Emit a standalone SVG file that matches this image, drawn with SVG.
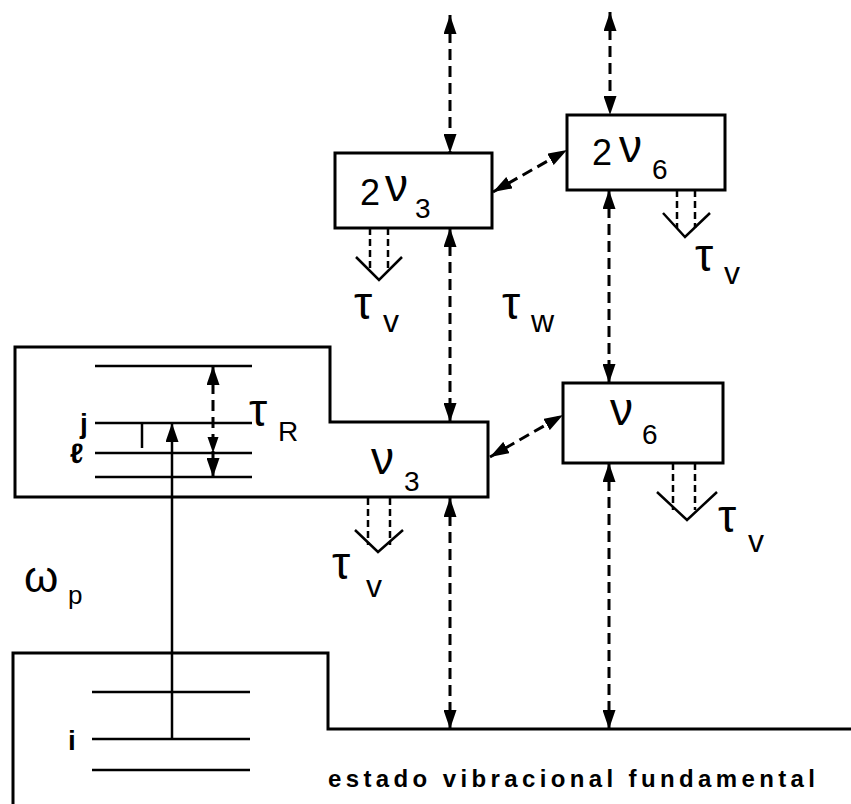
<svg xmlns="http://www.w3.org/2000/svg" width="851" height="804" viewBox="0 0 851 804">
<defs>
<marker id="ah" markerUnits="userSpaceOnUse" markerWidth="20" markerHeight="13" refX="19" refY="6.5" orient="auto-start-reverse">
<path d="M0,0 L19,6.5 L0,13 z" fill="#000"/>
</marker>
</defs>
<style>
.box{fill:none;stroke:#000;stroke-width:3;stroke-linejoin:miter}
.lvl{stroke:#000;stroke-width:2.5}
.dash{fill:none;stroke:#000;stroke-width:3;stroke-dasharray:11 6}
.dd{fill:none;stroke:#000;stroke-width:2.5;stroke-dasharray:7 4}
.v{fill:none;stroke:#000;stroke-width:2.5}
.t{font-family:"Liberation Sans",Arial,sans-serif;fill:#000}
.two{font-size:36px}
.nu{font-size:46px}
.tau{font-size:46px}
.sub{font-size:28px}
.sv{font-size:32px}
</style>
<rect width="851" height="804" fill="#fff"/>

<g id="n2v3">
<rect class="box" x="335" y="153" width="157" height="75"/>
<text class="t two" x="360" y="205">2</text>
<text class="t nu" x="385" y="201">ν</text>
<text class="t sub" x="415" y="218">3</text>
</g>

<g id="n2v6">
<rect class="box" x="567" y="115" width="158" height="75"/>
<text class="t two" x="592" y="165">2</text>
<text class="t nu" x="619" y="162">ν</text>
<text class="t sub" x="652" y="179">6</text>
</g>

<g id="nv3">
<path class="box" d="M15,347 H330 V422 H488 V497 H15 Z"/>
<line class="lvl" x1="95" y1="366" x2="252" y2="366"/>
<line class="lvl" x1="95" y1="423" x2="252" y2="423"/>
<line class="lvl" x1="95" y1="453" x2="252" y2="453"/>
<line class="lvl" x1="95" y1="477" x2="252" y2="477"/>
<line class="lvl" x1="142" y1="423" x2="142" y2="448"/>
<text class="t" x="80" y="433" font-size="28" font-weight="bold">j</text>
<text class="t" x="70" y="463" font-size="28" font-weight="bold" font-family="DejaVu Sans,sans-serif">ℓ</text>
<text class="t tau" x="249" y="426">τ</text>
<text class="t sub" x="278" y="441">R</text>
<text class="t nu" x="371" y="474">ν</text>
<text class="t sub" x="404" y="491">3</text>
</g>

<g id="nv6">
<rect class="box" x="563" y="383" width="160" height="80"/>
<text class="t nu" x="610" y="425">ν</text>
<text class="t sub" x="642" y="444">6</text>
</g>

<g id="ground">
<path class="box" d="M13,804 V653 H328 V729 H851"/>
<line class="lvl" x1="92" y1="692" x2="250" y2="692"/>
<line class="lvl" x1="92" y1="739" x2="250" y2="739"/>
<line class="lvl" x1="92" y1="770" x2="250" y2="770"/>
<text class="t" x="68" y="750" font-size="28" font-weight="bold">i</text>
<text class="t" x="328" y="787" font-size="24" font-weight="bold" textLength="487" lengthAdjust="spacing">estado vibracional fundamental</text>
</g>

<g id="labels">
<text class="t" x="24" y="592" font-family="DejaVu Sans,sans-serif" font-size="44">ω</text>
<text class="t" x="68" y="604" font-size="26">p</text>
<text class="t tau" x="354" y="319">τ</text>
<text class="t sv" x="383" y="332">v</text>
<text class="t tau" x="502" y="319">τ</text>
<text class="t sv" x="531" y="332">w</text>
<text class="t tau" x="695" y="271">τ</text>
<text class="t sv" x="724" y="284">v</text>
<text class="t tau" x="718" y="532">τ</text>
<text class="t sv" x="748" y="552">v</text>
<text class="t tau" x="332" y="579">τ</text>
<text class="t sv" x="366" y="597">v</text>
</g>

<g id="connectors">
<line class="dash" x1="450" y1="15" x2="450" y2="153" marker-start="url(#ah)" marker-end="url(#ah)"/>
<line class="dash" x1="610" y1="12" x2="610" y2="115" marker-start="url(#ah)" marker-end="url(#ah)"/>
<line class="dash" x1="493" y1="192" x2="567" y2="150" marker-start="url(#ah)" marker-end="url(#ah)"/>
<line class="dash" x1="450" y1="228" x2="450" y2="422" marker-start="url(#ah)" marker-end="url(#ah)"/>
<line class="dash" x1="609" y1="190" x2="609" y2="383" marker-start="url(#ah)" marker-end="url(#ah)"/>
<line class="dash" x1="490" y1="457" x2="563" y2="415" marker-start="url(#ah)" marker-end="url(#ah)"/>
<line class="dash" x1="450" y1="498" x2="450" y2="729" marker-start="url(#ah)" marker-end="url(#ah)"/>
<line class="dash" x1="609" y1="463" x2="609" y2="729" marker-start="url(#ah)" marker-end="url(#ah)"/>
<line class="dash" x1="213" y1="366" x2="213" y2="477" marker-start="url(#ah)" marker-end="url(#ah)"/>
<path d="M207.5,437 L218.5,437 L213,453 z" fill="#000"/>
<line stroke="#000" stroke-width="2.5" x1="172" y1="739" x2="172" y2="423" marker-end="url(#ah)"/>
<line class="dd" x1="370" y1="228" x2="370" y2="272"/>
<line class="dd" x1="388" y1="228" x2="388" y2="272"/>
<polyline class="v" points="356,257 379,280 402,257"/>
<line class="dd" x1="677" y1="190" x2="677" y2="228"/>
<line class="dd" x1="695" y1="190" x2="695" y2="228"/>
<polyline class="v" points="663,213 685,237 710,213"/>
<line class="dd" x1="368" y1="498" x2="368" y2="545"/>
<line class="dd" x1="390" y1="498" x2="390" y2="545"/>
<polyline class="v" points="355,530 378,552 403,530"/>
<line class="dd" x1="673" y1="463" x2="673" y2="510"/>
<line class="dd" x1="695" y1="463" x2="695" y2="510"/>
<polyline class="v" points="657,492 687,520 717,492"/>
</g>
</svg>
